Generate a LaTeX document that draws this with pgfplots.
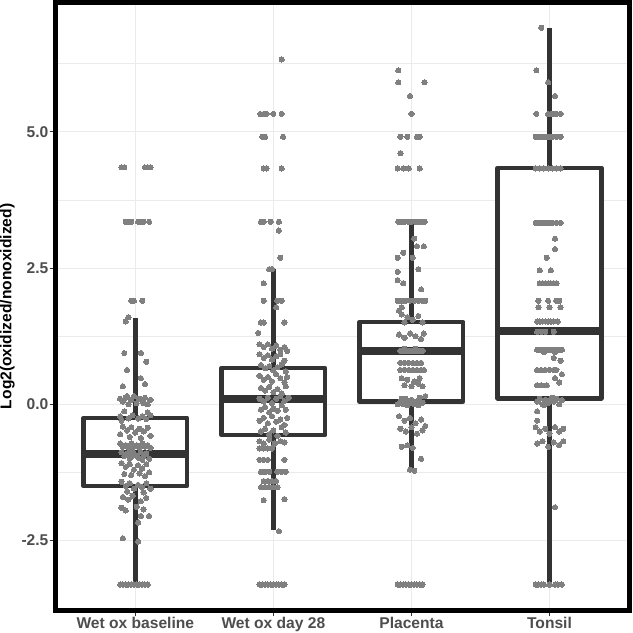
\documentclass[border=0pt]{standalone}
\usepackage{pgfplots}
\pgfplotsset{compat=1.18}
\usepgfplotslibrary{statistics}
\usepackage{fontspec}
\setmainfont{Liberation Sans}

\definecolor{ptgray}{HTML}{808080}
\definecolor{boxdark}{HTML}{333333}
\definecolor{ticktext}{HTML}{4D4D4D}
\definecolor{gridc}{HTML}{EBEBEB}

\begin{document}
\begin{tikzpicture}
\begin{axis}[
  scale only axis,
  width=570pt,
  height=604pt,
  xmin=0.423, xmax=4.577,
  ymin=-3.78, ymax=7.375,
  xtick={1,2,3,4},
  xticklabels={Wet ox baseline,Wet ox day 28,Placenta,Tonsil},
  ytick={-2.5,0,2.5,5},
  yticklabels={-2.5,0.0,2.5,5.0},
  minor ytick={-3.75,-1.25,1.25,3.75,6.25},
  grid=both,
  major grid style={draw=gridc, line width=1pt},
  minor grid style={draw=gridc, line width=0.8pt},
  minor tick length=0pt,
  tick align=outside,
  xtick pos=bottom,
  ytick pos=left,
  major tick length=6pt,
  tick style={draw=boxdark, line width=1pt},
  axis line style={draw=black, line width=5pt},
  tick label style={font=\fontsize{15.5}{16}\selectfont\bfseries, text=ticktext},
  yticklabel style={inner sep=1pt},
  xticklabel style={inner sep=1pt},
  ylabel={Log2(oxidized/nonoxidized)},
  every axis y label/.style={at={(axis description cs:-0.0843,0.5)}, rotate=90, anchor=center,
    font=\fontsize{15.5}{16}\selectfont\bfseries, text=black, inner sep=0pt},
  boxplot/draw direction=y,
  boxplot/every median/.style={draw=boxdark, line width=8pt},
]

% box plots (ggplot style, no whisker caps)
\addplot[boxplot prepared={draw position=1, median=-0.92, upper quartile=-0.25, lower quartile=-1.50,
  upper whisker=1.58, lower whisker=-3.30, box extend=0.75, whisker extend=0},
  draw=boxdark, fill=white, line width=4.5pt, line join=round, solid] coordinates {};
\addplot[boxplot prepared={draw position=2, median=0.09, upper quartile=0.665, lower quartile=-0.565,
  upper whisker=2.49, lower whisker=-2.31, box extend=0.75, whisker extend=0},
  draw=boxdark, fill=white, line width=4.5pt, line join=round, solid] coordinates {};
\addplot[boxplot prepared={draw position=3, median=0.97, upper quartile=1.51, lower quartile=0.05,
  upper whisker=3.34, lower whisker=-1.20, box extend=0.75, whisker extend=0},
  draw=boxdark, fill=white, line width=4.5pt, line join=round, solid] coordinates {};
\addplot[boxplot prepared={draw position=4, median=1.34, upper quartile=4.34, lower quartile=0.11,
  upper whisker=6.90, lower whisker=-3.30, box extend=0.75, whisker extend=0},
  draw=boxdark, fill=white, line width=4.5pt, line join=round, solid] coordinates {};

% jittered points: Wet ox baseline
\addplot[only marks, color=ptgray, mark=*, mark size=2.6pt, mark options={fill=ptgray, draw=ptgray, line width=0pt}] coordinates {
  (0.90,4.35) (0.92,4.35) (1.07,4.35) (1.09,4.35) (1.11,4.35)
  (0.93,3.35) (0.95,3.35) (0.97,3.35) (1.02,3.35) (1.04,3.35) (1.06,3.35) (1.10,3.35)
  (0.97,1.9) (0.99,1.9) (1.05,1.9) (0.95,1.6) (0.93,1.52)
  (0.92,0.94) (1.04,0.94) (1.08,0.78) (0.94,0.63) (1.04,0.48) (1.07,0.37) (0.91,0.33)
  (0.89,0.1) (0.91,0.05) (0.93,0.12) (0.95,0.0) (0.97,0.08) (0.99,0.15) (1.01,0.02)
  (1.03,0.1) (1.05,0.06) (1.07,0.12) (1.09,0.0) (1.11,0.08) (0.94,0.15) (1.06,0.02)
  (0.92,-0.13) (1.09,-0.15) (0.89,-0.22) (0.95,-0.26) (0.98,-0.2) (1.02,-0.26) (1.05,-0.22)
  (1.08,-0.27) (1.11,-0.2) (0.9,-0.3)
  (0.91,-0.41) (0.94,-0.48) (0.97,-0.42) (1.0,-0.52) (1.03,-0.45) (1.06,-0.5) (1.09,-0.43)
  (0.89,-0.55) (1.11,-0.58) (0.96,-0.6) (1.04,-0.62)
  (0.89,-0.72) (0.91,-0.78) (0.93,-0.75) (0.95,-0.8) (0.97,-0.72) (0.99,-0.78) (1.01,-0.75)
  (1.03,-0.8) (1.05,-0.72) (1.07,-0.78) (1.09,-0.75) (1.11,-0.8) (0.9,-0.88) (0.92,-0.95)
  (0.94,-0.9) (0.96,-1.0) (0.98,-0.86) (1.0,-0.93) (1.02,-0.98) (1.04,-0.88) (1.06,-0.95)
  (1.08,-0.9) (1.1,-1.0) (0.97,-0.96) (1.05,-1.02)
  (0.9,-1.08) (0.93,-1.15) (0.96,-1.1) (0.99,-1.2) (1.02,-1.12) (1.05,-1.18) (1.08,-1.1)
  (1.1,-1.25) (0.92,-1.28) (0.97,-1.3) (1.03,-1.27) (1.07,-1.32)
  (0.9,-1.42) (0.93,-1.5) (0.96,-1.45) (0.99,-1.55) (1.02,-1.48) (1.05,-1.52) (1.08,-1.45)
  (1.11,-1.55) (0.94,-1.6) (1.06,-1.62)
  (0.91,-1.7) (0.95,-1.75) (0.98,-1.68) (1.04,-1.78) (1.08,-1.72) (0.9,-1.9) (0.93,-1.95)
  (1.01,-1.88) (1.06,-1.93)
  (1.04,-2.05) (1.10,-2.05) (1.02,-2.17) (0.91,-2.46) (1.02,-2.52)
  (0.89,-3.31) (0.91,-3.31) (0.93,-3.31) (0.95,-3.31) (0.97,-3.31) (0.99,-3.31)
  (1.01,-3.31) (1.03,-3.31) (1.05,-3.31) (1.07,-3.31) (1.09,-3.31)
};

% Wet ox day 28
\addplot[only marks, color=ptgray, mark=*, mark size=2.6pt, mark options={fill=ptgray, draw=ptgray, line width=0pt}] coordinates {
  (2.06,6.33)
  (1.905,5.33) (1.93,5.33) (1.95,5.33) (2.0,5.33) (2.06,5.33)
  (1.92,4.91) (1.94,4.91) (2.07,4.91)
  (1.93,4.33) (1.95,4.33) (2.06,4.33)
  (1.91,3.35) (1.93,3.35) (1.98,3.35) (2.04,3.35)
  (2.04,3.19) (2.05,2.69) (1.99,2.48) (1.97,2.48)
  (1.93,2.22) (1.93,1.9) (2.03,1.9) (2.06,1.9) (2.02,1.78) (1.91,1.5) (1.93,1.5) (2.08,1.5) (1.89,1.31)
  (1.9,1.1) (1.93,1.05) (1.96,1.1) (1.99,1.02) (2.02,1.08) (2.05,1.0) (2.08,1.05) (2.1,0.98)
  (1.9,0.92) (1.93,0.85) (1.96,0.9) (1.99,0.82) (2.02,0.88) (2.05,0.92) (2.08,0.8)
  (1.91,0.72) (1.94,0.66) (1.97,0.7) (2.0,0.62) (2.03,0.68) (2.06,0.73) (2.09,0.6)
  (1.9,0.52) (1.93,0.45) (1.96,0.5) (1.99,0.42) (2.02,0.55) (2.05,0.48) (2.08,0.4) (2.1,0.5)
  (1.91,0.3) (1.94,0.25) (1.97,0.32) (2.0,0.22) (2.03,0.28) (2.06,0.2) (2.09,0.33)
  (1.9,0.1) (1.93,0.05) (1.96,0.12) (1.99,0.02) (2.02,0.1) (2.05,0.15) (2.08,0.06) (2.11,0.12)
  (1.91,-0.1) (1.94,-0.05) (1.97,-0.15) (2.0,-0.08) (2.03,-0.12) (2.06,-0.02) (2.09,-0.1)
  (1.9,-0.3) (1.93,-0.25) (1.96,-0.35) (1.99,-0.22) (2.02,-0.32) (2.05,-0.28) (2.08,-0.38) (2.1,-0.25)
  (1.91,-0.5) (1.94,-0.45) (1.97,-0.55) (2.0,-0.48) (2.03,-0.58) (2.06,-0.42) (2.09,-0.52)
  (1.9,-0.68) (1.93,-0.72) (1.97,-0.65) (2.01,-0.72) (2.05,-0.68) (2.08,-0.7)
  (1.9,-0.81) (1.93,-0.81) (1.96,-0.81) (1.99,-0.81)
  (1.9,-1.02) (1.93,-1.02) (1.96,-1.02) (2.08,-1.02)
  (1.91,-1.24) (1.94,-1.24) (1.97,-1.24) (2.03,-1.24) (2.06,-1.24) (2.09,-1.24)
  (1.93,-1.41) (1.96,-1.41) (1.99,-1.41) (2.02,-1.41)
  (1.91,-1.52) (1.94,-1.52) (1.97,-1.52) (2.0,-1.52) (2.03,-1.52)
  (1.93,-1.76) (2.08,-1.74) (2.04,-2.33)
  (1.9,-3.31) (1.92,-3.31) (1.94,-3.31) (1.96,-3.31) (1.98,-3.31) (2.0,-3.31)
  (2.02,-3.31) (2.04,-3.31) (2.06,-3.31) (2.08,-3.31)
};

% Placenta
\addplot[only marks, color=ptgray, mark=*, mark size=2.6pt, mark options={fill=ptgray, draw=ptgray, line width=0pt}] coordinates {
  (2.905,6.13) (2.905,5.91) (3.095,5.91) (2.99,5.66) (3.0,5.33)
  (2.92,4.91) (2.97,4.91) (3.04,4.91) (3.06,4.91) (2.92,4.61)
  (2.9,4.33) (2.94,4.33) (2.98,4.33) (3.06,4.33)
  (2.905,3.35) (2.93,3.35) (2.95,3.35) (2.98,3.35) (3.0,3.35) (3.03,3.35) (3.05,3.35) (3.07,3.35) (3.095,3.35)
  (3.02,3.04) (3.04,2.9) (3.09,2.9) (2.94,2.78) (2.9,2.69) (3.01,2.69) (3.05,2.48) (2.9,2.43)
  (2.9,2.28) (2.94,2.22) (3.07,2.11)
  (2.9,1.9) (2.92,1.9) (2.94,1.9) (2.96,1.9) (2.99,1.9) (3.02,1.9) (3.05,1.9) (3.08,1.9) (3.1,1.9)
  (2.93,1.78) (2.91,1.72)
  (2.93,1.65) (2.97,1.6) (3.01,1.55) (3.05,1.62) (3.08,1.5) (2.95,1.5)
  (2.91,1.28) (2.95,1.22) (2.99,1.3) (3.03,1.25) (3.07,1.2) (3.09,1.3)
  (2.92,0.98) (2.94,0.98) (2.96,0.98) (2.98,0.98) (3.0,0.98) (3.02,0.98) (3.04,0.98) (3.06,0.98)
  (3.08,0.98) (2.95,1.02) (3.03,1.02)
  (2.92,0.76) (2.95,0.76) (2.98,0.76) (3.01,0.76) (3.04,0.76) (3.07,0.76)
  (2.92,0.63) (2.95,0.63) (2.98,0.63) (3.01,0.63) (3.04,0.63) (3.07,0.63) (3.09,0.63)
  (2.93,0.48) (2.97,0.45) (3.02,0.42) (3.06,0.48) (2.95,0.35) (3.0,0.33) (3.05,0.38) (3.08,0.33)
  (2.9,0.0) (2.92,0.05) (2.94,0.0) (2.96,0.1) (2.98,0.02) (3.0,0.08) (3.02,0.0) (3.04,0.06)
  (3.06,0.12) (3.08,0.03) (3.1,0.15) (2.93,0.1) (2.97,-0.02) (3.01,0.04) (3.05,-0.02)
  (2.91,-0.22) (2.95,-0.3) (2.99,-0.25) (3.03,-0.35) (3.07,-0.28) (3.1,-0.4) (2.92,-0.45)
  (2.96,-0.5) (3.0,-0.42) (3.04,-0.54) (3.08,-0.48)
  (2.93,-0.78) (2.97,-0.75) (3.01,-0.8) (3.07,-1.0) (2.99,-1.2) (3.02,-1.22)
  (2.9,-3.31) (2.92,-3.31) (2.94,-3.31) (2.96,-3.31) (2.98,-3.31) (3.0,-3.31)
  (3.02,-3.31) (3.04,-3.31) (3.06,-3.31) (3.08,-3.31)
};

% Tonsil
\addplot[only marks, color=ptgray, mark=*, mark size=2.6pt, mark options={fill=ptgray, draw=ptgray, line width=0pt}] coordinates {
  (3.94,6.91) (3.905,6.13) (3.99,5.91) (4.04,5.66)
  (3.905,5.33) (3.99,5.33) (4.01,5.33) (4.03,5.33) (4.05,5.33) (4.08,5.33)
  (3.9,4.91) (3.92,4.91) (3.94,4.91) (3.96,4.91) (3.98,4.91) (4.0,4.91) (4.02,4.91) (4.05,4.91) (4.08,4.91)
  (3.9,4.33) (3.93,4.33) (3.96,4.33) (3.99,4.33) (4.02,4.33) (4.05,4.33) (4.08,4.33)
  (3.9,3.33) (3.92,3.33) (3.94,3.33) (3.96,3.33) (3.98,3.33) (4.0,3.33) (4.02,3.33) (4.05,3.33) (4.08,3.33)
  (4.04,3.04) (4.04,2.85) (3.98,2.69) (3.93,2.46) (4.01,2.46)
  (3.93,2.22) (3.95,2.22) (3.97,2.22) (3.99,2.22) (4.01,2.22) (4.03,2.22) (4.05,2.22)
  (3.92,1.9) (3.99,1.9) (4.05,1.9) (4.07,1.9)
  (3.92,1.78) (4.0,1.78) (4.08,1.78)
  (3.91,1.52) (3.93,1.52) (3.95,1.52) (3.97,1.52) (3.99,1.52) (4.01,1.52) (4.03,1.52) (4.06,1.52)
  (3.91,1.33) (3.94,1.33) (3.97,1.33) (4.03,1.33)
  (3.91,1.0) (3.93,1.0) (3.95,1.0) (3.97,1.0) (3.99,1.0) (4.01,1.0) (4.03,1.0) (4.05,1.0)
  (4.07,1.0) (4.09,1.0) (3.96,0.96) (4.04,0.96)
  (4.03,0.85) (4.08,0.8)
  (3.91,0.63) (3.94,0.63) (3.97,0.63) (4.0,0.63) (4.03,0.63) (4.05,0.63)
  (4.09,0.55) (4.04,0.48) (4.07,0.4) (3.91,0.35) (3.94,0.35) (3.98,0.35)
  (3.91,0.05) (3.93,0.1) (3.95,0.0) (3.97,0.08) (3.99,0.02) (4.01,0.1) (4.03,0.05) (4.05,0.1)
  (4.07,0.0) (4.09,0.08) (3.96,-0.02) (4.02,0.12)
  (3.91,-0.13) (3.91,-0.3)
  (3.9,-0.42) (3.93,-0.5) (3.97,-0.45) (4.0,-0.54) (4.04,-0.42) (4.07,-0.5) (4.1,-0.45)
  (3.91,-0.72) (3.95,-0.68) (3.99,-0.78) (4.03,-0.7) (4.07,-0.75) (4.1,-0.68)
  (4.04,-1.89)
  (3.9,-3.31) (3.92,-3.31) (3.94,-3.31) (3.96,-3.31) (4.0,-3.31) (4.04,-3.31) (4.06,-3.31) (4.09,-3.31)
};
\end{axis}
% keep the outer half of the thick frame on the page
\path ([shift={(3.5pt,2.5pt)}]current axis.north east);
\end{tikzpicture}
\end{document}
